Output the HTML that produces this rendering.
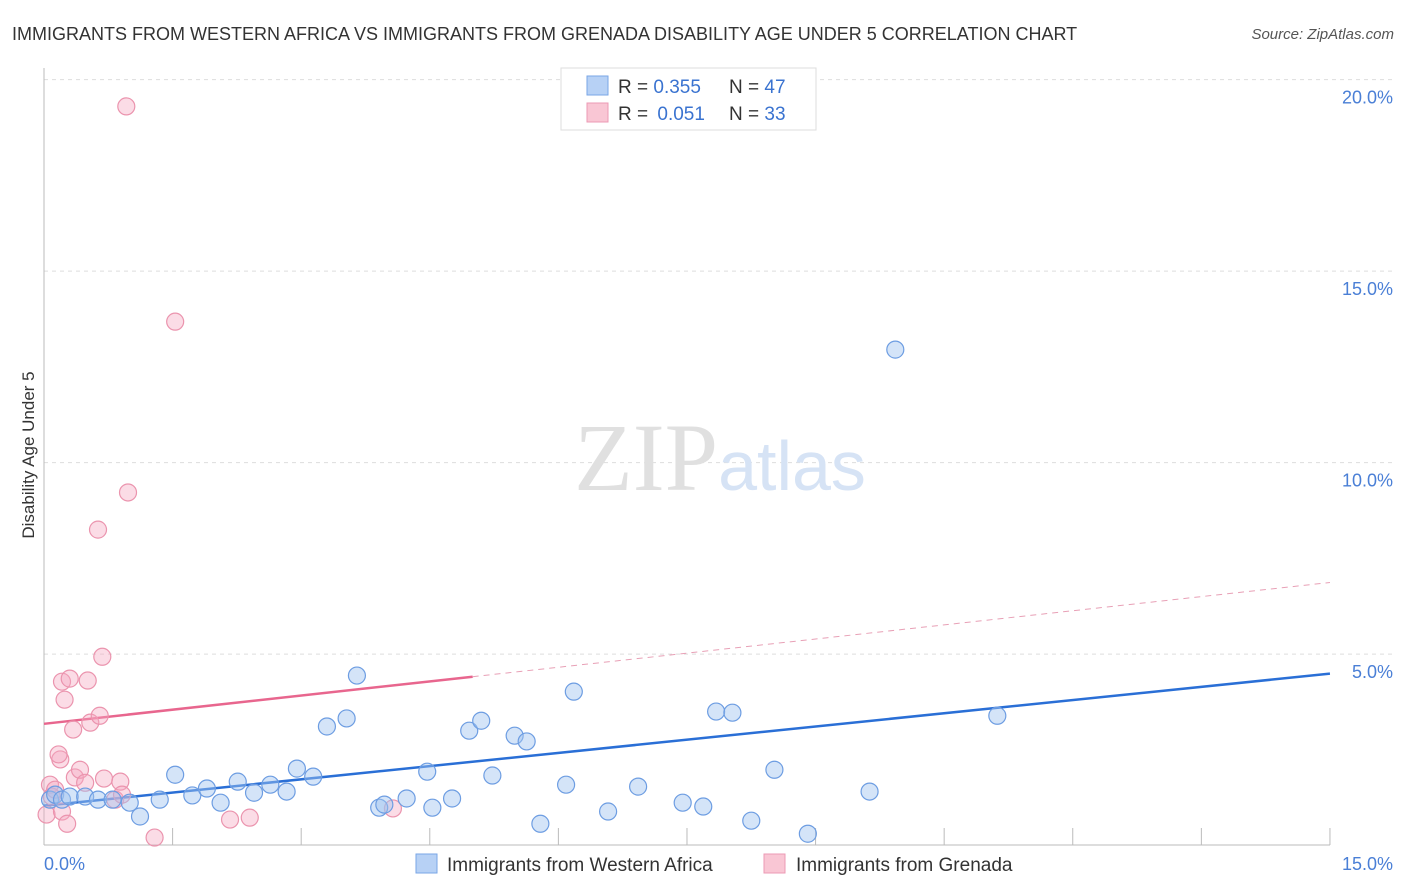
<!DOCTYPE html>
<html><head><meta charset="utf-8"><style>
body{margin:0;background:#fff;font-family:"Liberation Sans",sans-serif;}
svg{display:block}
</style></head><body>
<svg width="1406" height="892" xmlns="http://www.w3.org/2000/svg">
<text x="12" y="40" font-size="18" fill="#333">IMMIGRANTS FROM WESTERN AFRICA VS IMMIGRANTS FROM GRENADA DISABILITY AGE UNDER 5 CORRELATION CHART</text>
<text x="1394" y="39" font-size="15" fill="#555" font-style="italic" text-anchor="end">Source: ZipAtlas.com</text>
<g id="grid"></g>
<text x="720" y="490" font-size="96" text-anchor="middle" font-family="Liberation Serif,serif" fill="#e4e4e4"><tspan fill="#e0e0e0">ZIP</tspan><tspan font-family="Liberation Sans,sans-serif" font-size="70" fill="#d6e3f5">atlas</tspan></text>
<line x1="44" y1="68" x2="44" y2="845" stroke="#bbb"/>
<line x1="44" y1="845" x2="1330" y2="845" stroke="#bbb"/>
<text transform="translate(34,455) rotate(-90)" font-size="17" fill="#333" text-anchor="middle">Disability Age Under 5</text>
<text x="44" y="870" font-size="18" fill="#4a7fd6">0.0%</text>
<text x="1393" y="870" font-size="18" fill="#4a7fd6" text-anchor="end">15.0%</text>
<g id="lines"></g>
<g id="marks"></g>
<g>
<rect x="561" y="68" width="255" height="62" fill="#fff" stroke="#ddd"/>
<rect x="587" y="76" width="21" height="19" fill="#b7d1f5" stroke="#7aa6e6"/>
<rect x="587" y="103" width="21" height="19" fill="#f9c6d4" stroke="#ec9ab4"/>
<text x="618" y="93" font-size="19" fill="#333">R = <tspan fill="#3a73d0">0.355</tspan><tspan x="729">N = </tspan><tspan fill="#3a73d0">47</tspan></text>
<text x="618" y="120" font-size="19" fill="#333">R = <tspan fill="#3a73d0" dx="4">0.051</tspan><tspan x="729">N = </tspan><tspan fill="#3a73d0">33</tspan></text>
</g>
<g>
<rect x="416" y="854" width="21" height="19" fill="#b7d1f5" stroke="#7aa6e6"/>
<text x="447" y="871" font-size="19" fill="#333">Immigrants from Western Africa</text>
<rect x="764" y="854" width="21" height="19" fill="#f9c6d4" stroke="#ec9ab4"/>
<text x="796" y="871" font-size="19" fill="#333">Immigrants from Grenada</text>
</g>
</svg>
<script>
const yTicks=[5,10,15,20];
const yTickLabels=["5.0%","10.0%","15.0%","20.0%"];
const xTicks=[1.5,3,4.5,6,7.5,9,10.5,12,13.5,15];
const blueX=[0.07,0.13,0.21,0.30,0.48,0.63,0.80,1.00,1.12,1.35,1.53,1.73,1.90,2.06,2.26,2.45,2.64,2.83,2.95,3.14,3.30,3.53,3.65,3.91,3.97,4.23,4.47,4.53,4.76,4.96,5.10,5.23,5.49,5.63,5.79,6.09,6.18,6.58,6.93,7.45,7.69,7.84,8.03,8.25,8.52,8.91,9.63,9.93,11.12];
const blueY=[1.20,1.33,1.20,1.28,1.28,1.20,1.20,1.12,0.76,1.20,1.85,1.31,1.49,1.12,1.67,1.38,1.59,1.41,2.01,1.80,3.11,3.32,4.44,0.99,1.07,1.23,1.93,0.99,1.23,3.00,3.26,1.83,2.87,2.72,0.57,1.59,4.02,0.89,1.54,1.12,1.02,3.50,3.47,0.65,1.98,0.31,1.41,12.95,3.39];
const pinkX=[0.07,0.09,0.13,0.03,0.19,0.21,0.24,0.30,0.34,0.17,0.21,0.27,0.36,0.42,0.48,0.51,0.54,0.65,0.68,0.70,0.83,0.89,0.91,0.96,0.98,0.63,1.29,1.53,2.17,2.40,4.07];
const pinkY=[1.59,1.28,1.46,0.81,2.25,4.28,3.81,4.36,3.03,2.38,0.89,0.57,1.78,1.98,1.64,4.31,3.21,3.39,4.93,1.75,1.20,1.67,1.33,19.30,9.22,8.25,0.21,13.68,0.68,0.73,0.97];
const blueTrend=[1.04,4.49];
const pinkTrend=[3.18,6.87];
const pinkSolidEnd=5.0;
const NS="http://www.w3.org/2000/svg";
const sx=v=>44+v*85.73, sy=v=>845.6-v*38.3;
function mk(t,a,p){const e=document.createElementNS(NS,t);for(const k in a)e.setAttribute(k,a[k]);p.appendChild(e);return e;}
const grid=document.getElementById('grid');
yTicks.forEach((t,i)=>{
 const l=mk('line',{x1:44,x2:1394,y1:sy(t),y2:sy(t),stroke:'#ddd','stroke-dasharray':'4,4'},grid);
 
 
 const tx=mk('text',{x:1393,y:sy(t)+24,'font-size':18,fill:'#4a7fd6','text-anchor':'end'},grid);
 tx.textContent=yTickLabels[i];
 
 
});
xTicks.forEach(t=>{
 const l=mk('line',{x1:sx(t),x2:sx(t),y1:828,y2:845,stroke:'#bbb'},grid);
 
 
});
const marks=document.getElementById('marks');
pinkX.forEach((x,i)=>{
 const c=mk('circle',{cx:sx(x),cy:sy(pinkY[i]),r:8.5,fill:'rgba(244,168,192,0.4)',stroke:'#eb94ae','stroke-width':1.2},marks);
 
 
});
blueX.forEach((x,i)=>{
 const c=mk('circle',{cx:sx(x),cy:sy(blueY[i]),r:8.5,fill:'rgba(160,196,240,0.45)',stroke:'#6d9de2','stroke-width':1.2},marks);
 
 
});
const lines=document.getElementById('lines');
const pAt=x=>pinkTrend[0]+(pinkTrend[1]-pinkTrend[0])*x/15;
let l1=mk('line',{x1:sx(0),y1:sy(blueTrend[0]),x2:sx(15),y2:sy(blueTrend[1]),stroke:'#2a6fd6','stroke-width':2.5},lines);


let l2=mk('line',{x1:sx(0),y1:sy(pAt(0)),x2:sx(pinkSolidEnd),y2:sy(pAt(pinkSolidEnd)),stroke:'#e8668e','stroke-width':2.5},lines);


let l3=mk('line',{x1:sx(pinkSolidEnd),y1:sy(pAt(pinkSolidEnd)),x2:sx(15),y2:sy(pAt(15)),stroke:'#e8a0b6','stroke-width':1,'stroke-dasharray':'6,5'},lines);


</script>
</body></html>
